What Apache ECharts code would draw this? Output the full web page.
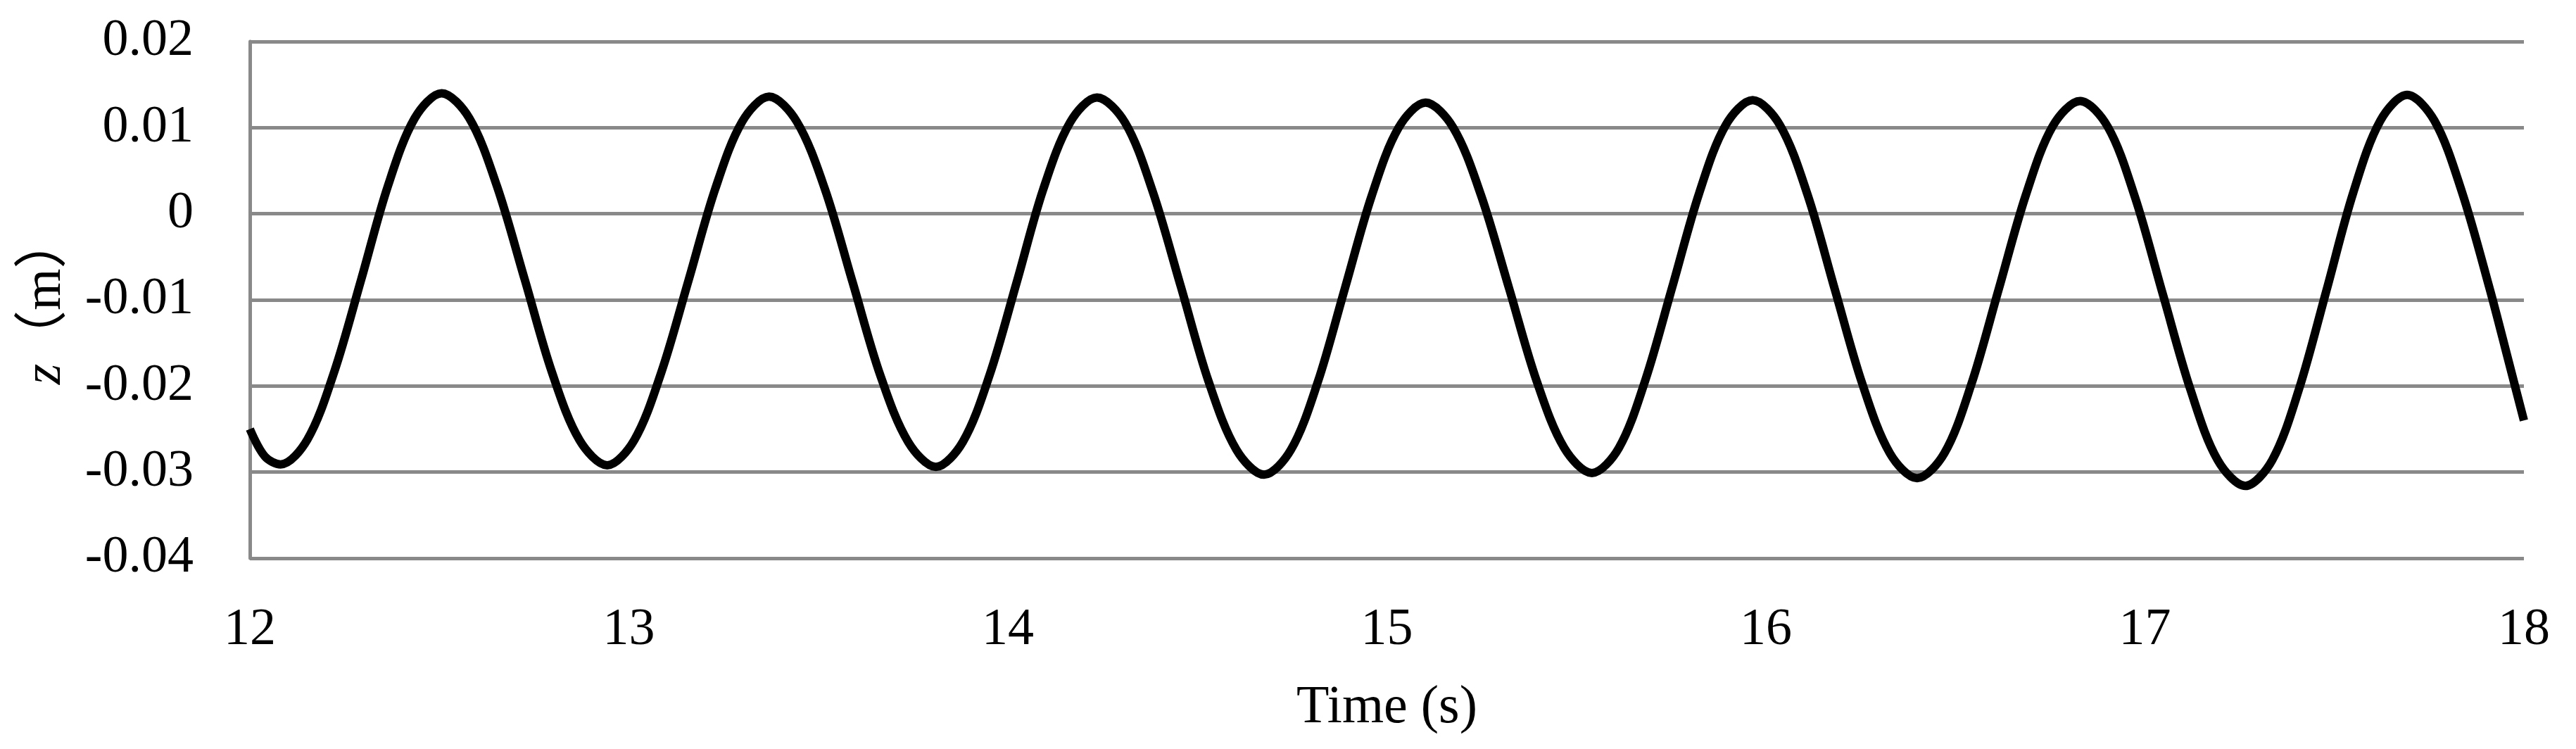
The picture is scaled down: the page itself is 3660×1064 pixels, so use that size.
<!DOCTYPE html>
<html>
<head>
<meta charset="utf-8">
<style>
  html, body { margin: 0; padding: 0; background: #ffffff; }
  #chart { width: 3660px; height: 1064px; }
</style>
<script src="https://cdn.jsdelivr.net/npm/echarts@6/dist/echarts.min.js"></script>
</head>
<body>
<div id="chart"></div>
<script>
// Time (s)
var times = [
  12.000, 12.040, 12.081,
  12.152, 12.223, 12.294, 12.364, 12.435, 12.506,
  12.579, 12.652, 12.725, 12.797, 12.870, 12.943,
  13.014, 13.085, 13.157, 13.228, 13.299, 13.370,
  13.443, 13.517, 13.590, 13.663, 13.737, 13.810,
  13.881, 13.952, 14.023, 14.093, 14.164, 14.235,
  14.309, 14.382, 14.456, 14.529, 14.603, 14.676,
  14.747, 14.818, 14.889, 14.960, 15.031, 15.102,
  15.175, 15.248, 15.322, 15.395, 15.468, 15.541,
  15.612, 15.682, 15.753, 15.824, 15.894, 15.965,
  16.037, 16.110, 16.182, 16.254, 16.327, 16.399,
  16.471, 16.542, 16.614, 16.686, 16.757, 16.829,
  16.902, 16.974, 17.047, 17.120, 17.192, 17.265,
  17.336, 17.407, 17.479, 17.550, 17.621, 17.692,
  17.764, 17.836, 17.909, 17.960, 18.000
];
// z (m)
var zValues = [
  -0.0250, -0.0282, -0.0291,
  -0.0262, -0.0183, -0.0076, 0.0032, 0.0111, 0.0140,
  0.0111, 0.0032, -0.0076, -0.0184, -0.0263, -0.0292,
  -0.0263, -0.0185, -0.0078, 0.0029, 0.0107, 0.0136,
  0.0107, 0.0029, -0.0079, -0.0187, -0.0265, -0.0294,
  -0.0265, -0.0187, -0.0080, 0.0028, 0.0106, 0.0135,
  0.0106, 0.0026, -0.0084, -0.0194, -0.0274, -0.0303,
  -0.0274, -0.0195, -0.0087, 0.0021, 0.0100, 0.0129,
  0.0100, 0.0022, -0.0086, -0.0194, -0.0272, -0.0301,
  -0.0272, -0.0193, -0.0085, 0.0024, 0.0103, 0.0132,
  0.0103, 0.0022, -0.0088, -0.0197, -0.0278, -0.0307,
  -0.0278, -0.0198, -0.0088, 0.0022, 0.0102, 0.0131,
  0.0101, 0.0019, -0.0093, -0.0204, -0.0286, -0.0316,
  -0.0286, -0.0203, -0.0089, 0.0025, 0.0108, 0.0138,
  0.0108, 0.0026, -0.0086, -0.0172, -0.0240
];
var xTickLabels = ['12', '13', '14', '15', '16', '17', '18'];
var yTickLabels = ['-0.04', '-0.03', '-0.02', '-0.01', '0', '0.01', '0.02'];

var seriesData = times.map(function (t, i) { return [t, zValues[i]]; });

var gridColor = '#898989';
var fontFam = '"Liberation Serif", "DejaVu Serif", serif';

var chart = echarts.init(document.getElementById('chart'), null, { renderer: 'canvas' });
chart.setOption({
  animation: false,
  backgroundColor: '#ffffff',
  grid: { left: 355, right: 74, top: 59, bottom: 271, containLabel: false },
  xAxis: {
    type: 'value',
    min: 12, max: 18, interval: 1,
    name: 'Time (s)',
    nameLocation: 'middle',
    nameGap: 175,
    nameTextStyle: { fontFamily: fontFam, fontSize: 76, color: '#000000' },
    axisLine: { show: false },
    axisTick: { show: false },
    splitLine: { show: false },
    axisLabel: {
      margin: 66,
      fontFamily: fontFam, fontSize: 74, color: '#000000',
      formatter: function (v) { return xTickLabels[Math.round(v - 12)]; }
    }
  },
  yAxis: {
    type: 'value',
    min: -0.04, max: 0.02, interval: 0.01,
    name: '{i|z}（m）',
    nameLocation: 'middle',
    nameGap: 252,
    nameTextStyle: {
      fontFamily: '"Liberation Serif", "Noto Sans CJK SC", serif', fontSize: 76, color: '#000000',
      rich: {
        i: { fontFamily: '"Liberation Serif", serif', fontStyle: 'italic', fontSize: 76, color: '#000000' }
      }
    },
    axisLine: { show: true, lineStyle: { color: gridColor, width: 5 } },
    axisTick: { show: false },
    splitLine: { show: true, lineStyle: { color: gridColor, width: 5 } },
    axisLabel: {
      margin: 80,
      fontFamily: fontFam, fontSize: 74, color: '#000000',
      formatter: function (v) { return yTickLabels[Math.round((v + 0.04) * 100)]; }
    }
  },
  series: [{
    type: 'line',
    data: seriesData,
    smooth: 0.33,
    showSymbol: false,
    symbol: 'none',
    lineStyle: { color: '#000000', width: 12 },
    clip: false
  }]
});
</script>
</body>
</html>
